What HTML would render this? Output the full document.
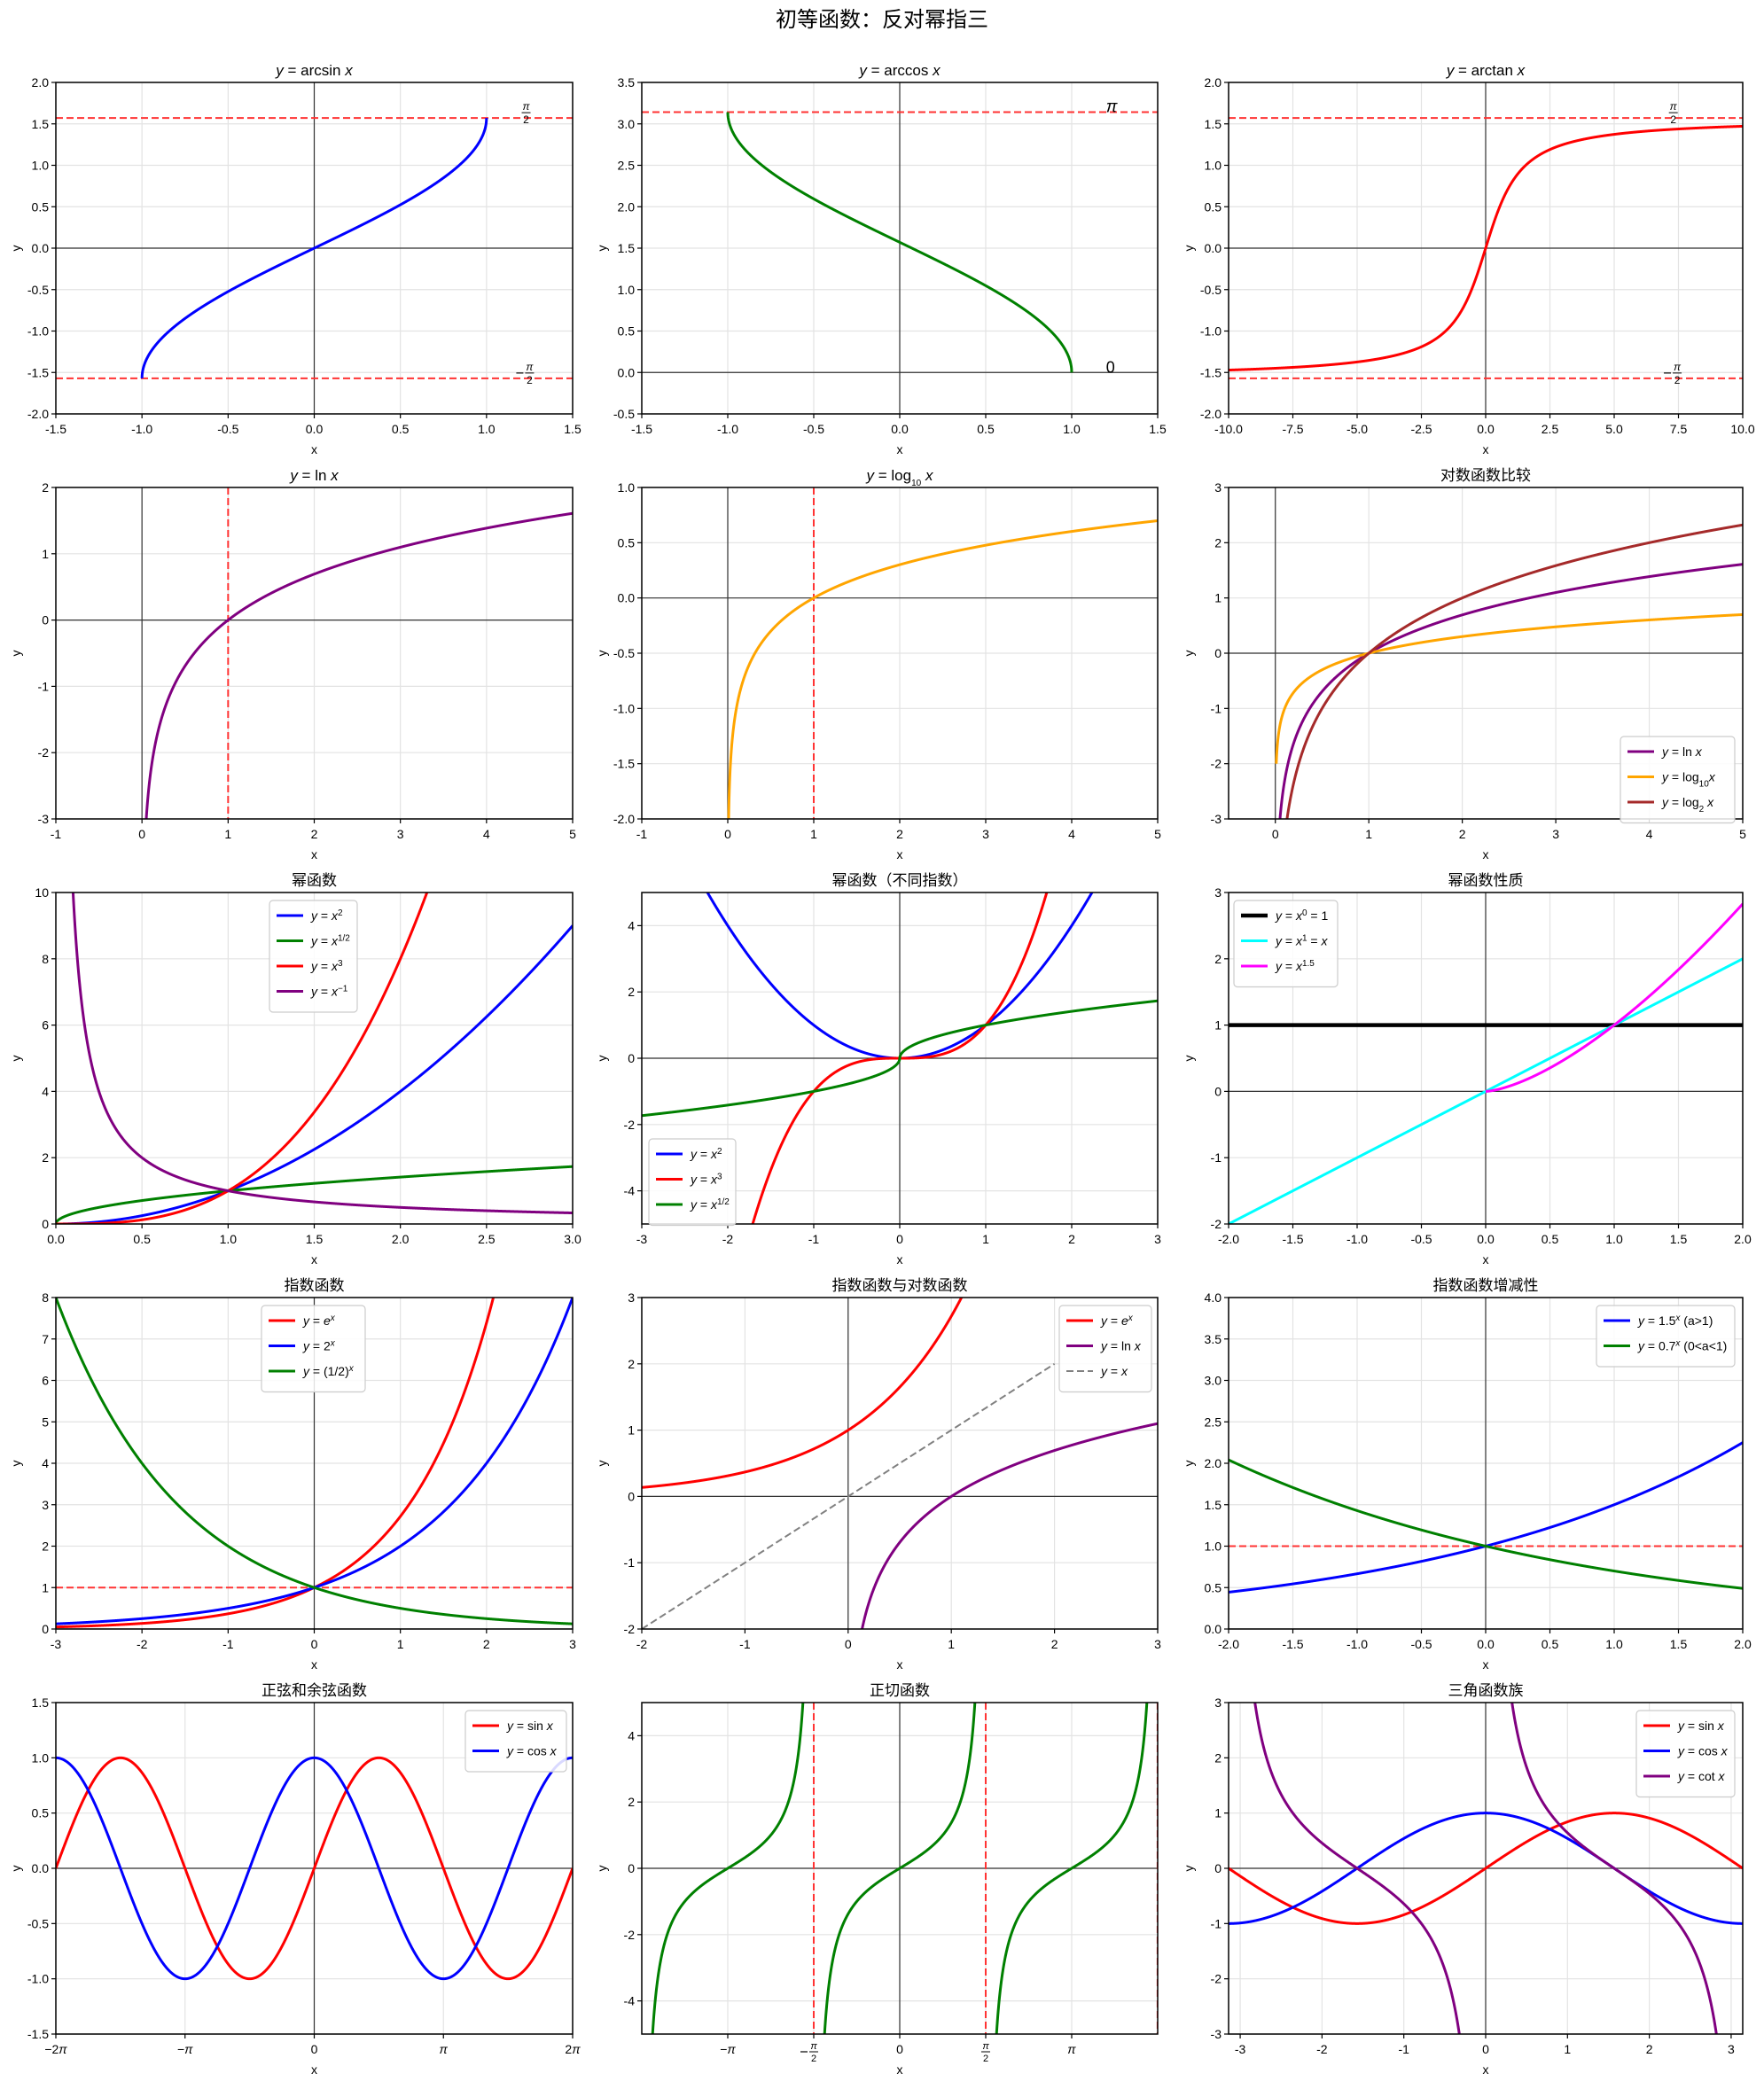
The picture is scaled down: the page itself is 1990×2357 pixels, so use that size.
<!DOCTYPE html>
<html><head><meta charset="utf-8"><style>
html,body{margin:0;padding:0;background:#fff;overflow:hidden;width:1990px;height:2357px;}
svg{display:block;font-family:"Liberation Sans","Noto Sans CJK SC",sans-serif;}
</style></head><body>
<svg id="s" width="1990" height="2357" xmlns="http://www.w3.org/2000/svg">
<rect width="1990" height="2357" fill="#fff"/>
<text x="995" y="30" font-size="24" text-anchor="middle" font-family="Liberation Sans, Noto Sans CJK SC, sans-serif">初等函数：反对幂指三</text>
</svg>
<script>
const svg=document.getElementById('s');
const L=[63,724,1386],R=[646,1306,1966],T=[93,550,1007,1464,1921],B=[467,924,1381,1838,2295];
const PI=Math.PI;
let out='';
let cid=0;
function rng(a,b,s){const r=[];for(let v=a;v<=b+1e-9;v+=s)r.push(+v.toFixed(6));return r;}
function fmt(d){return v=>v.toFixed(d);}
const I=s=>`<tspan font-style="italic">${s}</tspan>`;
const SUP=s=>`<tspan baseline-shift="super" font-size="10">${s}</tspan>`;
const SUB=s=>`<tspan baseline-shift="sub" font-size="10">${s}</tspan>`;
function frac(x,y,neg,fs){fs=fs||12;let s='';
 if(neg)s+=`<line x1="${x-15}" y1="${y}" x2="${x-7}" y2="${y}" stroke="#000" stroke-width="1.2"/>`;
 s+=`<text x="${x}" y="${y-3}" font-size="${fs}" font-style="italic" text-anchor="middle">π</text><line x1="${x-5}" y1="${y}" x2="${x+5}" y2="${y}" stroke="#000" stroke-width="1"/><text x="${x}" y="${y+fs}" font-size="${fs}" text-anchor="middle">2</text>`;return s;}
function panel(r,c,o){
 const l=L[c],rt=R[c],t=T[r],b=B[r];
 const X=v=>l+(v-o.xr[0])/(o.xr[1]-o.xr[0])*(rt-l);
 const Y=v=>b-(v-o.yr[0])/(o.yr[1]-o.yr[0])*(b-t);
 const id='c'+(cid++);
 let s=`<clipPath id="${id}"><rect x="${l}" y="${t}" width="${rt-l}" height="${b-t}"/></clipPath>`;
 o.xt.forEach(v=>{const x=X(v);s+=`<line x1="${x}" y1="${t}" x2="${x}" y2="${b}" stroke="#e3e3e3" stroke-width="1.2"/>`;});
 o.yt.forEach(v=>{const y=Y(v);s+=`<line x1="${l}" y1="${y}" x2="${rt}" y2="${y}" stroke="#e3e3e3" stroke-width="1.2"/>`;});
 s+=`<g clip-path="url(#${id})">`;
 if(o.ax!==false){
  if(0>=o.yr[0]&&0<=o.yr[1])s+=`<line x1="${l}" y1="${Y(0)}" x2="${rt}" y2="${Y(0)}" stroke="#333" stroke-width="1.2"/>`;
  if(0>=o.xr[0]&&0<=o.xr[1])s+=`<line x1="${X(0)}" y1="${t}" x2="${X(0)}" y2="${b}" stroke="#333" stroke-width="1.2"/>`;
 }
 (o.h||[]).forEach(v=>{s+=`<line x1="${l}" y1="${Y(v)}" x2="${rt}" y2="${Y(v)}" stroke="#ff3333" stroke-width="2" stroke-dasharray="8,4"/>`;});
 (o.v||[]).forEach(v=>{s+=`<line x1="${X(v)}" y1="${t}" x2="${X(v)}" y2="${b}" stroke="#ff3333" stroke-width="2" stroke-dasharray="8,4"/>`;});
 (o.cs||[]).forEach(cv=>{
  const N=3000;let d='',pen=false,py=null;
  const span=o.yr[1]-o.yr[0];
  for(let i=0;i<=N;i++){const x=cv.a+(cv.b-cv.a)*i/N;let y=cv.f(x);
   if(!isFinite(y)){pen=false;py=null;continue;}
   const lo=o.yr[0]-span*2,hi=o.yr[1]+span*2;
   if(py!==null&&Math.abs(y-py)>span*3){pen=false;}
   let yc=Math.max(lo,Math.min(hi,y));
   d+=(pen?'L':'M')+X(x).toFixed(2)+','+Y(yc).toFixed(2);pen=true;py=yc;}
  s+=`<path d="${d}" fill="none" stroke="${cv.c}" stroke-width="${cv.w||3}" ${cv.d?'stroke-dasharray="'+cv.d+'"':''} stroke-linejoin="round"/>`;
 });
 s+='</g>';
 s+=`<rect x="${l}" y="${t}" width="${rt-l}" height="${b-t}" fill="none" stroke="#000" stroke-width="1.5"/>`;
 o.xt.forEach((v,i)=>{const x=X(v);s+=`<line x1="${x}" y1="${b}" x2="${x}" y2="${b+5}" stroke="#000" stroke-width="1.2"/>`;
  const lab=o.xl?o.xl[i]:o.xf(v);
  if(typeof lab==='function')s+=lab(x,b+22);
  else s+=`<text x="${x}" y="${b+22}" font-size="14" text-anchor="middle">${lab}</text>`;});
 o.yt.forEach(v=>{const y=Y(v);s+=`<line x1="${l-5}" y1="${y}" x2="${l}" y2="${y}" stroke="#000" stroke-width="1.2"/><text x="${l-8}" y="${y+5}" font-size="14" text-anchor="end">${o.yf(v)}</text>`;});
 s+=`<text x="${(l+rt)/2}" y="${b+45}" font-size="14" text-anchor="middle">x</text>`;
 s+=`<text transform="translate(${l-40},${(t+b)/2}) rotate(-90)" font-size="14" text-anchor="middle">y</text>`;
 s+=`<text x="${(l+rt)/2}" y="${t-8}" font-size="17" text-anchor="middle">${o.title}</text>`;
 if(o.ex)s+=o.ex(X,Y);
 if(o.lg){const g=o.lg;const h=g.it.length*28.5+12;
  s+=`<rect x="${g.x}" y="${g.y}" width="${g.w}" height="${h}" rx="4" fill="#fff" fill-opacity="0.85" stroke="#ccc" stroke-width="1.2"/>`;
  g.it.forEach((e,i)=>{const yy=g.y+17+i*28.5;
   s+=`<line x1="${g.x+8}" y1="${yy}" x2="${g.x+38}" y2="${yy}" stroke="${e[0]}" stroke-width="${e[2]||3}" ${e[3]?'stroke-dasharray="'+e[3]+'"':''}/>`;
   s+=`<text x="${g.x+47}" y="${yy+5}" font-size="14">${e[1]}</text>`;});}
 out+=s;
}
const y_=I('y')+' = ';
const f1=fmt(1),f0=fmt(0);
panel(0,0,{xr:[-1.5,1.5],yr:[-2,2],xt:rng(-1.5,1.5,.5),yt:rng(-2,2,.5),xf:f1,yf:f1,h:[PI/2,-PI/2],
 cs:[{f:Math.asin,a:-1,b:1,c:'#0000ff'}],title:y_+'arcsin '+I('x'),
 ex:(X,Y)=>frac(X(1.23),Y(PI/2)-6,false)+frac(X(1.25),Y(-PI/2)-6,true)});
panel(0,1,{xr:[-1.5,1.5],yr:[-0.5,3.5],xt:rng(-1.5,1.5,.5),yt:rng(-0.5,3.5,.5),xf:f1,yf:f1,h:[PI],
 cs:[{f:Math.acos,a:-1,b:1,c:'#008000'}],title:y_+'arccos '+I('x'),
 ex:(X,Y)=>`<text x="${X(1.2)}" y="${Y(PI)}" font-size="19" font-style="italic">π</text><text x="${X(1.2)}" y="${Y(0)}" font-size="18">0</text>`});
panel(0,2,{xr:[-10,10],yr:[-2,2],xt:rng(-10,10,2.5),yt:rng(-2,2,.5),xf:f1,yf:f1,h:[PI/2,-PI/2],
 cs:[{f:Math.atan,a:-10,b:10,c:'#ff0000'}],title:y_+'arctan '+I('x'),
 ex:(X,Y)=>frac(X(7.3),Y(PI/2)-6,false)+frac(X(7.45),Y(-PI/2)-6,true)});
panel(1,0,{xr:[-1,5],yr:[-3,2],xt:rng(-1,5,1),yt:rng(-3,2,1),xf:f0,yf:f0,v:[1],
 cs:[{f:Math.log,a:0.01,b:5,c:'#800080'}],title:y_+'ln '+I('x')});
panel(1,1,{xr:[-1,5],yr:[-2,1],xt:rng(-1,5,1),yt:rng(-2,1,.5),xf:f0,yf:f1,v:[1],
 cs:[{f:Math.log10,a:0.01,b:5,c:'#ffa500'}],title:y_+'log'+SUB('10')+' '+I('x')});
panel(1,2,{xr:[-0.5,5],yr:[-3,3],xt:rng(0,5,1),yt:rng(-3,3,1),xf:f0,yf:f0,
 cs:[{f:Math.log,a:0.01,b:5,c:'#800080'},{f:Math.log10,a:0.01,b:5,c:'#ffa500'},{f:Math.log2,a:0.01,b:5,c:'#a52a2a'}],title:'对数函数比较',
 lg:{x:1828,y:831,w:129,it:[['#800080',y_+'ln '+I('x')],['#ffa500',y_+'log'+SUB('10')+I('x')],['#a52a2a',y_+'log'+SUB('2')+' '+I('x')]]}});
panel(2,0,{xr:[0,3],yr:[0,10],xt:rng(0,3,.5),yt:rng(0,10,2),xf:f1,yf:f0,ax:false,
 cs:[{f:x=>x*x,a:0,b:3,c:'#0000ff'},{f:Math.sqrt,a:0,b:3,c:'#008000'},{f:x=>x*x*x,a:0,b:3,c:'#ff0000'},{f:x=>1/x,a:0.05,b:3,c:'#800080'}],title:'幂函数',
 lg:{x:304,y:1016,w:99,it:[['#0000ff',y_+I('x')+SUP('2')],['#008000',y_+I('x')+SUP('1/2')],['#ff0000',y_+I('x')+SUP('3')],['#800080',y_+I('x')+SUP('−1')]]}});
panel(2,1,{xr:[-3,3],yr:[-5,5],xt:rng(-3,3,1),yt:rng(-4,4,2),xf:f0,yf:f0,
 cs:[{f:x=>x*x,a:-3,b:3,c:'#0000ff'},{f:x=>x*x*x,a:-3,b:3,c:'#ff0000'},{f:x=>Math.sign(x)*Math.sqrt(Math.abs(x)),a:-3,b:3,c:'#008000'}],title:'幂函数（不同指数）',
 lg:{x:732,y:1285,w:98,it:[['#0000ff',y_+I('x')+SUP('2')],['#ff0000',y_+I('x')+SUP('3')],['#008000',y_+I('x')+SUP('1/2')]]}});
panel(2,2,{xr:[-2,2],yr:[-2,3],xt:rng(-2,2,.5),yt:rng(-2,3,1),xf:f1,yf:f0,
 cs:[{f:x=>1,a:-2,b:2,c:'#000',w:4.5},{f:x=>x,a:-2,b:2,c:'#00ffff'},{f:x=>Math.pow(x,1.5),a:0,b:2,c:'#ff00ff'}],title:'幂函数性质',
 lg:{x:1392,y:1016,w:117,it:[['#000',y_+I('x')+SUP('0')+' = 1',4.5],['#00ffff',y_+I('x')+SUP('1')+' = '+I('x')],['#ff00ff',y_+I('x')+SUP('1.5')]]}});
panel(3,0,{xr:[-3,3],yr:[0,8],xt:rng(-3,3,1),yt:rng(0,8,1),xf:f0,yf:f0,h:[1],
 cs:[{f:Math.exp,a:-3,b:3,c:'#ff0000'},{f:x=>Math.pow(2,x),a:-3,b:3,c:'#0000ff'},{f:x=>Math.pow(.5,x),a:-3,b:3,c:'#008000'}],title:'指数函数',
 lg:{x:295,y:1473,w:117,it:[['#ff0000',y_+I('e')+SUP(I('x'))],['#0000ff',y_+'2'+SUP(I('x'))],['#008000',y_+'(1/2)'+SUP(I('x'))]]}});
panel(3,1,{xr:[-2,3],yr:[-2,3],xt:rng(-2,3,1),yt:rng(-2,3,1),xf:f0,yf:f0,
 cs:[{f:Math.exp,a:-2,b:3,c:'#ff0000'},{f:Math.log,a:0.01,b:3,c:'#800080'},{f:x=>x,a:-2,b:2,c:'#808080',w:2,d:'8,4'}],title:'指数函数与对数函数',
 lg:{x:1195,y:1473,w:104,it:[['#ff0000',y_+I('e')+SUP(I('x'))],['#800080',y_+'ln '+I('x')],['#808080',y_+I('x'),2,'8,4']]}});
panel(3,2,{xr:[-2,2],yr:[0,4],xt:rng(-2,2,.5),yt:rng(0,4,.5),xf:f1,yf:f1,h:[1],
 cs:[{f:x=>Math.pow(1.5,x),a:-2,b:2,c:'#0000ff'},{f:x=>Math.pow(.7,x),a:-2,b:2,c:'#008000'}],title:'指数函数增减性',
 lg:{x:1801,y:1473,w:156,it:[['#0000ff',y_+'1.5'+SUP(I('x'))+' (a&gt;1)'],['#008000',y_+'0.7'+SUP(I('x'))+' (0&lt;a&lt;1)']]}});
const pf=neg=>(x,y)=>{let s=`<text x="${x}" y="${y-5}" font-size="11" text-anchor="middle" font-style="italic">π</text><line x1="${x-5}" y1="${y-2}" x2="${x+5}" y2="${y-2}" stroke="#000" stroke-width="1"/><text x="${x}" y="${y+9}" font-size="11" text-anchor="middle">2</text>`;
 if(neg)s+=`<line x1="${x-15}" y1="${y-2}" x2="${x-7}" y2="${y-2}" stroke="#000" stroke-width="1.2"/>`;return s;};
panel(4,0,{xr:[-2*PI,2*PI],yr:[-1.5,1.5],xt:[-2*PI,-PI,0,PI,2*PI],xl:['−2'+I('π'),'−'+I('π'),'0',I('π'),'2'+I('π')],yt:rng(-1.5,1.5,.5),yf:f1,
 cs:[{f:Math.sin,a:-2*PI,b:2*PI,c:'#ff0000'},{f:Math.cos,a:-2*PI,b:2*PI,c:'#0000ff'}],title:'正弦和余弦函数',
 lg:{x:525,y:1930,w:114,it:[['#ff0000',y_+'sin '+I('x')],['#0000ff',y_+'cos '+I('x')]]}});
panel(4,1,{xr:[-1.5*PI,1.5*PI],yr:[-5,5],xt:[-PI,-PI/2,0,PI/2,PI],xl:['−'+I('π'),pf(true),'0',pf(false),I('π')],yt:rng(-4,4,2),xf:f0,yf:f0,v:[-PI/2,PI/2,1.5*PI-0.002],
 cs:[{f:x=>{const y=Math.tan(x);return Math.abs(y)>10?NaN:y;},a:-1.5*PI,b:1.5*PI,c:'#008000'}],title:'正切函数'});
panel(4,2,{xr:[-PI,PI],yr:[-3,3],xt:rng(-3,3,1),yt:rng(-3,3,1),xf:f0,yf:f0,
 cs:[{f:Math.sin,a:-PI,b:PI,c:'#ff0000'},{f:Math.cos,a:-PI,b:PI,c:'#0000ff'},{f:x=>{const y=1/Math.tan(x);return Math.abs(y)>10?NaN:y;},a:-PI,b:PI,c:'#800080'}],title:'三角函数族',
 lg:{x:1846,y:1930,w:111,it:[['#ff0000',y_+'sin '+I('x')],['#0000ff',y_+'cos '+I('x')],['#800080',y_+'cot '+I('x')]]}});
svg.insertAdjacentHTML('beforeend',out);
</script>
</body></html>
